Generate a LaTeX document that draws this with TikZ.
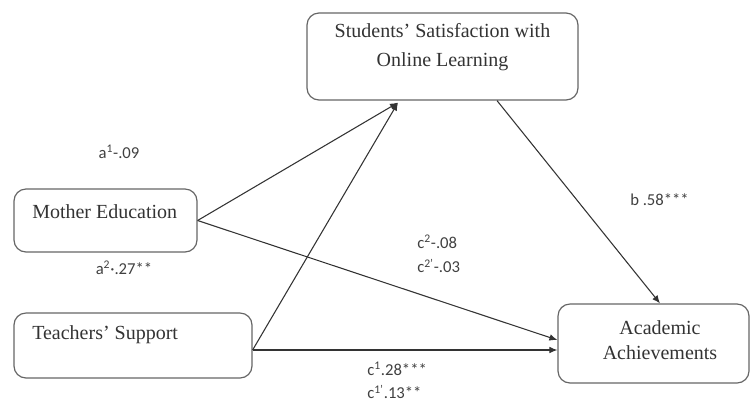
\documentclass[tikz,border=0pt]{standalone}
\usepackage{fontspec}
\setmainfont{Liberation Serif}
\newfontfamily\lblfont{Carlito}
\usetikzlibrary{calc,arrows.meta}
\begin{document}
\begin{tikzpicture}[x=0.75pt,y=-0.75pt,
  box/.style={draw=black!60,line width=0.9pt,rounded corners=9pt,minimum width=#1,inner sep=0pt},
  boxtext/.style={font=\fontsize{15}{21.5}\selectfont,text=black!80,inner sep=0pt},
  lbl/.style={font=\lblfont\fontsize{12.5}{15}\selectfont,text=black!75,inner sep=0pt},
  conn/.style={draw=black!80,line width=0.8pt,-{Latex[length=6pt,width=5pt]}}]
\useasboundingbox (0,0) rectangle (752,405);
% boxes
\node[box=203.25pt,minimum height=65.25pt] (sat) at (442.5,56.5) {};
\node[box=137.25pt,minimum height=47.25pt] (mother) at (105.5,220.5) {};
\node[box=178.5pt,minimum height=48.75pt] (teach) at (133,345.5) {};
\node[box=143.25pt,minimum height=59.25pt] (acad) at (653.5,343.5) {};
% box texts
\node[boxtext,align=center] (sattext) at (442.5,47) {Students’ Satisfaction with\\Online Learning};
\node[boxtext,anchor=west] (mothertext) at (32,212) {Mother Education};
\node[boxtext,anchor=west] (teachtext) at (32,335) {Teachers’ Support};
\node[boxtext,align=center,font=\fontsize{15}{19}\selectfont] (acadtext) at (660,340) {Academic\\Achievements};
% connectors
\coordinate (satin) at ($(sat.south)+(-44.5,2)$);
\coordinate (teachout) at ($(teach.east)+(0,4.5)$);
\coordinate (acadin1) at ($(acad.west)+(0,-3.5)$);
\coordinate (acadin2) at (acad.west |- teachout);
\coordinate (satout) at ($(sat.south)+(54.5,0)$);
\coordinate (acadtop) at ($(acad.north)+(6.5,0)$);
\draw[conn] (mother.east) -- (satin);
\draw[conn] (teachout) -- (satin);
\draw[conn] (mother.east) -- (acadin1);
\draw[conn] (teachout) -- (acadin2);
\draw[conn] (satout) -- (acadtop);
% labels
\node[lbl] (la1) at (119,152) {a\textsuperscript{1}-.09};
\node[lbl] (la2) at (124,268) {a\textsuperscript{2}·.27**};
\node[lbl,anchor=west] (lc2) at (417,242) {c\textsuperscript{2}-.08};
\node[lbl,anchor=west] (lc2p) at (417,266) {c\textsuperscript{2’}-.03};
\node[lbl,anchor=west] (lb) at (630,200) {b .58***};
\node[lbl,anchor=west] (lc1) at (367,369) {c\textsuperscript{1}.28***};
\node[lbl,anchor=west] (lc1p) at (367,392) {c\textsuperscript{1’}.13**};
\end{tikzpicture}
\end{document}
